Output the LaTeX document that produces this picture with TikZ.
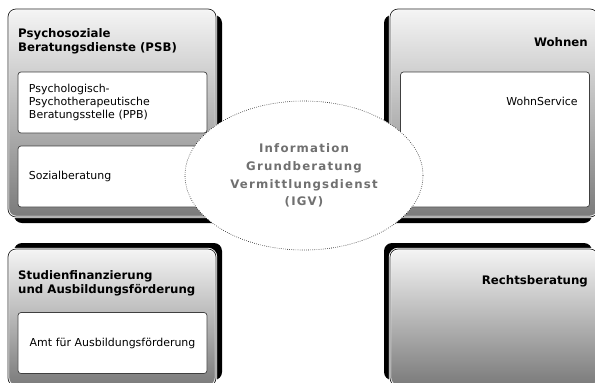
\documentclass[tikz,border=0pt]{standalone}
\usepackage{fontspec}
\setmainfont{DejaVu Sans}
\newfontfamily\spacedfont[LetterSpace=10]{DejaVu Sans}
\usetikzlibrary{positioning, shapes.geometric}

\begin{document}
\begin{tikzpicture}[
        x=1bp, y=-1bp,
        shadowbox/.style={fill=black, rounded corners=8bp},
        panel/.style={top color=black!4, bottom color=black!52, draw=white, line width=2.4bp, rounded corners=8bp},
        panel rim/.style={draw=black!85, line width=0.7bp, rounded corners=8bp},
        cell/.style={draw=black!75, fill=white, line width=0.7bp, rounded corners=3bp,
            minimum width=189bp, minimum height=61bp, inner xsep=11bp, text width=167bp,
            align=left, font=\fontsize{11}{13.5}\selectfont},
        heading/.style={inner sep=0pt, align=left, font=\fontsize{11.8}{14}\selectfont\bfseries},
        bodytext/.style={inner sep=0pt, font=\fontsize{11}{13.5}\selectfont},
        hub/.style={ellipse, draw, line width=0.6bp, dash pattern=on 0.6bp off 1.5bp, fill=white,
            minimum width=238bp, minimum height=149bp,
            inner sep=0pt, align=center, text=black!56,
            font=\spacedfont\bfseries\fontsize{11.8}{17.9}\selectfont}
    ]
    \useasboundingbox (0, 0) rectangle (595, 382);
    \clip (0, 0) rectangle (595, 382);

    % the four panels with their shadows
    \foreach \xa/\ya/\xb/\yb/\dx/\dy in {8/9/216/217/6/6, 390/9/598/217/-6/6, 8/249/216/386/6/-6, 390/249/598/386/-6/-6}{
        \path[shadowbox] (\xa+\dx, \ya+\dy) rectangle (\xb+\dx, \yb+\dy);
        \path[panel] (\xa, \ya) rectangle (\xb, \yb);
        \path[panel rim] (\xa, \ya) rectangle (\xb, \yb);
    }

    \node[heading, anchor=north west] (psb) at (18, 28.5) {Psychosoziale\\Beratungsdienste (PSB)};
    \node[cell] (ppb) at (112.5, 102.5) {Psychologisch-\\Psychotherapeutische\\Beratungsstelle (PPB)};
    \node[cell] (sozial) at (112.5, 176.5) {Sozialberatung};

    \node[heading, anchor=base east] (wohnen) at (588, 46.5) {Wohnen};
    \node[cell, minimum height=135bp] (wohnbox) at (495, 139.5) {};
    \node[bodytext, below left=25bp and 12bp of wohnbox.north east] (wohnservice) {WohnService};

    \node[heading, anchor=north west] (studfin) at (18, 270) {Studienfinanzierung\\und Ausbildungsförderung};
    \node[cell, align=center] (amt) at (112.5, 343) {Amt für Ausbildungsförderung};

    \node[heading, anchor=base east] (recht) at (588, 284) {Rechtsberatung};

    \node[hub] (igv) at (304, 175.5) {Information\\Grundberatung\\Vermittlungsdienst\\(IGV)};
\end{tikzpicture}
\end{document}
